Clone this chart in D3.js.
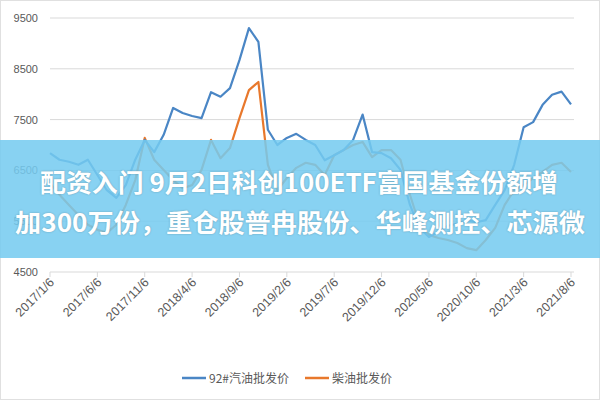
<!DOCTYPE html>
<html><head><meta charset="utf-8">
<script src="https://cdn.jsdelivr.net/npm/d3@7"></script>
<style>body{margin:0;background:#fff}svg{display:block}</style>
</head><body><svg id="c" width="600" height="400"></svg>
<script>
const tickLabels=["2017/1/6","2017/6/6","2017/11/6","2018/4/6","2018/9/6","2019/2/6","2019/7/6","2019/12/6","2020/5/6","2020/10/6","2021/3/6","2021/8/6"];
const yTicks=[4500,5500,6500,7500,8500,9500];
const gasoline=[6840,6710,6670,6610,6710,6410,6110,5960,6210,6710,7100,6860,7200,7730,7630,7570,7530,8040,7950,8120,8670,9300,9030,7300,7000,7140,7220,7100,7000,6700,6800,6900,7100,7600,6860,6840,6740,6510,5820,5370,5190,5290,5410,5450,5520,5480,5520,5820,6110,6610,7350,7450,7790,7990,8050,7800];
const diesel=[6250,6020,5820,5620,5430,5330,5270,5430,5820,6310,7140,6710,6510,6310,6150,6210,6510,7100,6740,6940,7530,8080,8240,6610,6110,6350,6550,6650,6610,6410,6800,6900,7000,7060,6760,6900,6900,6710,6020,5430,5230,5170,5130,5070,4970,4930,5130,5370,5820,6110,6210,6350,6470,6610,6650,6470];
const seriesNames=["92#汽油批发价","柴油批发价"];
const colors=["#4a86c5","#e8782c"];
const titleLines=["配资入门 9月2日科创100ETF富国基金份额增","加300万份，重仓股普冉股份、华峰测控、芯源微"];

const svg=d3.select("#c");
svg.append("rect").attr("x",0.5).attr("y",0.5).attr("width",599).attr("height",399).attr("fill","#fff").attr("stroke","#e0e0e0");
const x=d3.scaleLinear().domain([0,55]).range([50,571]);
const y=d3.scaleLinear().domain([4500,9500]).range([272,18]);
const g=svg.append("g");
g.selectAll("line.grid").data(yTicks).join("line").attr("x1",50).attr("x2",574)
 .attr("y1",d=>y(d)).attr("y2",d=>y(d)).attr("stroke","#d9d9d9").attr("stroke-width",1);
g.selectAll("text.yl").data(yTicks).join("text").attr("x",38).attr("y",d=>y(d)+4)
 .attr("text-anchor","end").attr("font-family","Liberation Sans, sans-serif").attr("font-size",11).attr("fill","#595959").text(d=>d);
const xt=tickLabels.map((t,i)=>({t,i:i*5}));
g.selectAll("line.xt").data(xt).join("line").attr("x1",d=>x(d.i)).attr("x2",d=>x(d.i)).attr("y1",272).attr("y2",277).attr("stroke","#d9d9d9");
g.selectAll("text.xl").data(xt).join("text").attr("transform",d=>`translate(${x(d.i)+5},${283}) rotate(-45)`)
 .attr("text-anchor","end").attr("font-family","Liberation Sans, sans-serif").attr("font-size",12.5).attr("fill","#595959").text(d=>d.t);
const line=d3.line().x((d,i)=>x(i)).y(d=>y(d)).curve(d3.curveLinear);
[diesel,gasoline].forEach((s,k)=>{
 g.append("path").datum(s).attr("d",line).attr("fill","none").attr("stroke",colors[1-k]).attr("stroke-width",2.2).attr("stroke-linejoin","round");
});
const lg=[{x:182,tx:209},{x:305,tx:332}];
lg.forEach((p,k)=>{
 svg.append("line").attr("x1",p.x).attr("x2",p.x+24).attr("y1",378).attr("y2",378).attr("stroke",colors[k]).attr("stroke-width",2.5);
 svg.append("text").attr("x",p.tx).attr("y",383).attr("font-family","Noto Sans CJK SC, sans-serif").attr("font-size",12).attr("fill","#595959").text(seriesNames[k]);
});
svg.append("rect").attr("x",0).attr("y",140).attr("width",600).attr("height",118).attr("fill","#74cbf0").attr("opacity",0.86);
const tl=[{y:192,x0:40,w:518},{y:232,x0:15,w:570}];
titleLines.forEach((t,k)=>{
 svg.append("text").attr("x",tl[k].x0).attr("y",tl[k].y).attr("textLength",tl[k].w).attr("lengthAdjust","spacingAndGlyphs")
  .attr("font-family","Noto Sans CJK SC, sans-serif").attr("font-weight","bold").attr("font-size",25).attr("fill","#fff")
  .style("text-shadow","0 0 2px rgba(0,0,0,0.25)").text(t);
});
</script></body></html>
